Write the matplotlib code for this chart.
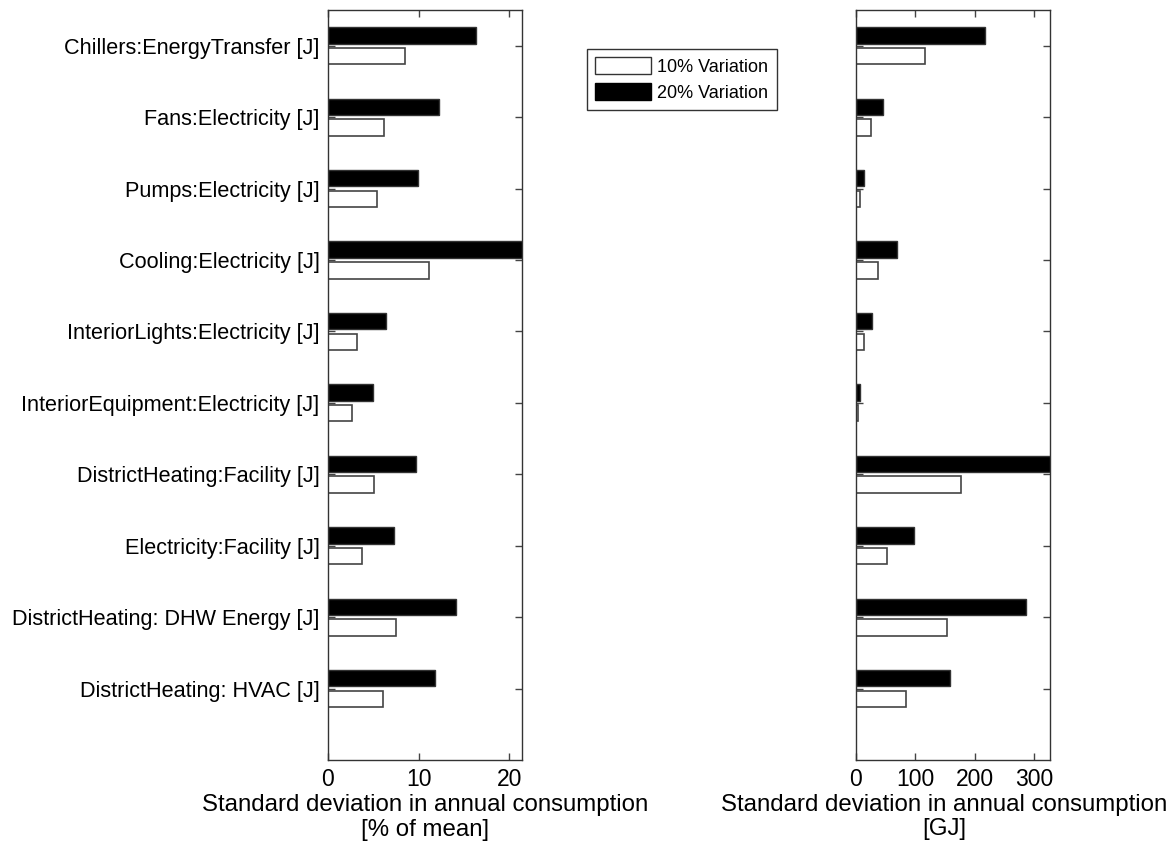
import numpy as np
import matplotlib.pyplot as plt
from matplotlib.patches import Patch

plt.rcParams['font.family'] = ['Liberation Sans', 'DejaVu Sans']

# categories listed top to bottom
categories = [
    'Chillers:EnergyTransfer [J]',
    'Fans:Electricity [J]',
    'Pumps:Electricity [J]',
    'Cooling:Electricity [J]',
    'InteriorLights:Electricity [J]',
    'InteriorEquipment:Electricity [J]',
    'DistrictHeating:Facility [J]',
    'Electricity:Facility [J]',
    'DistrictHeating: DHW Energy [J]',
    'DistrictHeating: HVAC [J]',
]

# std deviation, % of mean
pct_10 = [8.5, 6.2, 5.4, 11.1, 3.2, 2.6, 5.1, 3.75, 7.5, 6.1]
pct_20 = [16.3, 12.3, 9.9, 22.0, 6.4, 5.0, 9.7, 7.3, 14.1, 11.8]

# std deviation, GJ
gj_10 = [116, 26, 6.7, 36.5, 14, 3.4, 176, 52, 154, 85]
gj_20 = [218, 46, 13, 68.5, 27.5, 6.7, 340, 97.6, 286, 159]

pct_ticks = [0, 10, 20]
gj_ticks = [0, 100, 200, 300]

y = np.arange(len(categories), 0, -1)
h = 0.23
off = 0.145

fig = plt.figure(figsize=(11.75, 8.43), dpi=100)
ax1 = fig.add_axes([0.2791, 0.0985, 0.1651, 0.8897])
ax2 = fig.add_axes([0.7285, 0.0985, 0.1651, 0.8897])


def draw(ax, v10, v20, ticks, xmax, xlabel):
    ax.barh(y + off, v20, height=h, color='black', edgecolor='#333333', linewidth=1)
    ax.barh(y - off, v10, height=h, color='white', edgecolor='#444444', linewidth=1.2)
    ax.set_xlim(0, xmax)
    ax.set_ylim(0, 10.5)
    ax.set_xticks(ticks)
    ax.set_yticks(y)
    ax.tick_params(direction='in', length=5, width=1, color='#444444',
                   top=True, right=True, labelsize=16.5, pad=6)
    for s in ax.spines.values():
        s.set_linewidth(1)
        s.set_color('#333333')
    ax.set_xlabel(xlabel, fontsize=17.3, linespacing=1.15, labelpad=2)


draw(ax1, pct_10, pct_20, pct_ticks, 21.4, 'Standard deviation in annual consumption\n[% of mean]')
ax1.set_yticklabels(categories, fontsize=15.6)

draw(ax2, gj_10, gj_20, gj_ticks, 326.6, 'Standard deviation in annual consumption\n[GJ]')
ax2.set_yticklabels([])
ax2.xaxis.set_label_coords(0.455, -0.045)

handles = [Patch(facecolor='white', edgecolor='#333333', linewidth=1),
           Patch(facecolor='black', edgecolor='black', linewidth=1)]
leg = fig.legend(handles, ['10% Variation', '20% Variation'],
                 loc='upper left', bbox_to_anchor=(0.4996, 0.9419),
                 borderaxespad=0,
                 fontsize=13, handlelength=3.1, handleheight=1.1,
                 handletextpad=0.35, labelspacing=0.4, borderpad=0.45,
                 fancybox=False, framealpha=1)
leg.get_frame().set_edgecolor('#333333')
leg.get_frame().set_linewidth(1)

fig.savefig('out.png', dpi=100)
